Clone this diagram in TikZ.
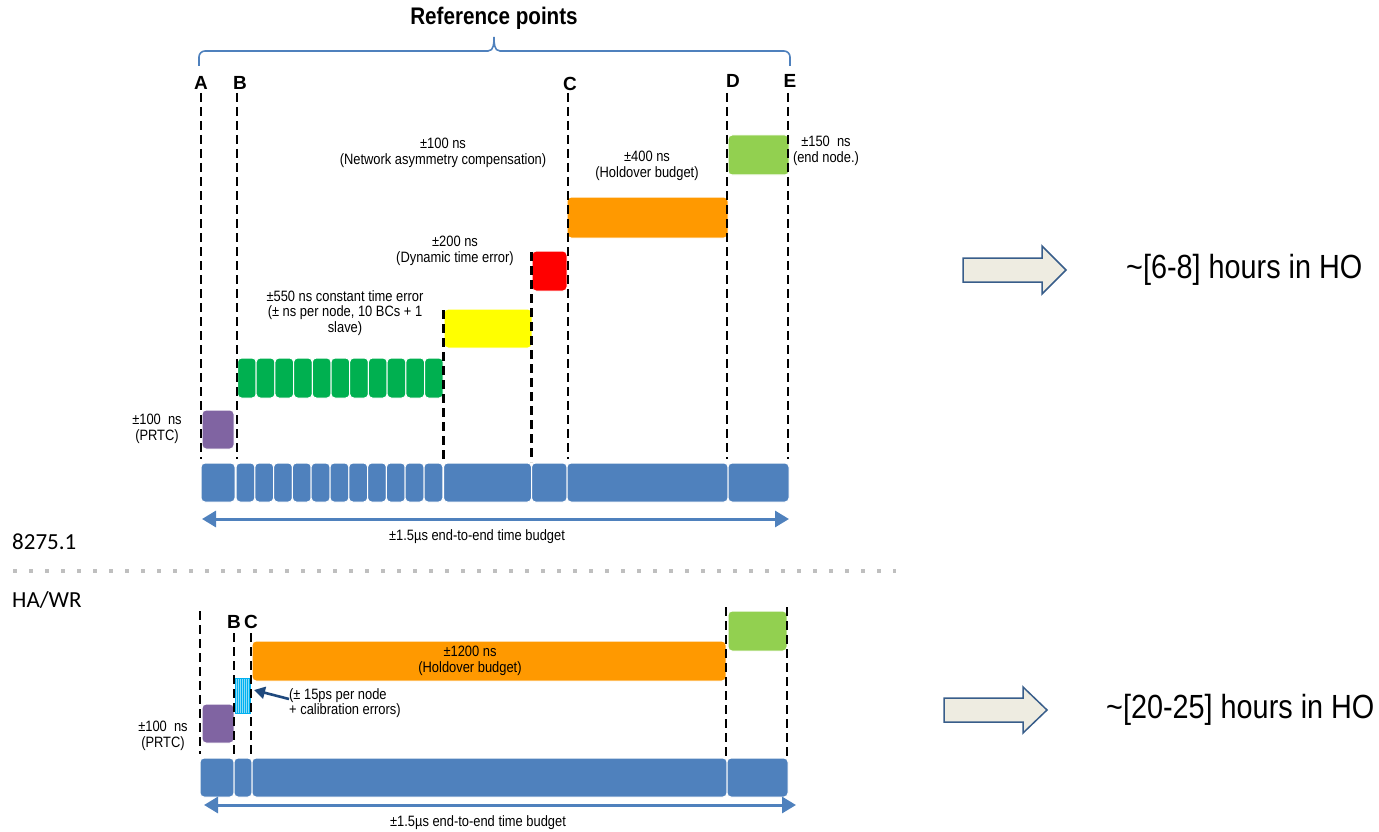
\documentclass[tikz,border=0pt]{standalone}
\usepackage{fontspec}
\setmainfont{Liberation Sans}
\newfontfamily\nar[FakeStretch=0.86]{Liberation Sans}
\newfontfamily\calfont{Carlito}
\usetikzlibrary{arrows.meta}
\definecolor{barblue}{HTML}{4F81BD}
\definecolor{prtc}{HTML}{8064A2}
\definecolor{bcgreen}{HTML}{00B050}
\definecolor{dyn}{HTML}{FF0000}
\definecolor{asym}{HTML}{FFFF00}
\definecolor{hold}{HTML}{FF9900}
\definecolor{endn}{HTML}{92D050}
\definecolor{cyanb}{HTML}{00B0F0}
\definecolor{arrowfill}{HTML}{EEECE1}
\definecolor{arrowline}{HTML}{385D8A}
\definecolor{annblue}{HTML}{1F497D}
\definecolor{sepgray}{HTML}{BFBFBF}
\newcommand\blk[6]{\node[blk,fill=#6,minimum width={(#4)-(#2)},minimum height={(#5)-(#3)}] (#1) at ({((#2)+(#4))/2},{((#3)+(#5))/2}) {};}
\tikzset{
  blk/.style={rectangle, rounded corners=4pt, inner sep=0pt, draw=white, line width=1pt},
  refline/.style={dash pattern=on 9pt off 5pt, line width=2.4pt, black},
  lbl/.style={font=\nar\fontsize{15}{15.5}\selectfont, align=center, inner sep=0pt},
  letter/.style={font=\bfseries\fontsize{19}{19}\selectfont, inner sep=0pt},
  budget/.style={barblue, line width=3pt, {Triangle[length=14pt,width=16pt]}-{Triangle[length=14pt,width=16pt]}},
  bigtxt/.style={font=\nar\fontsize{33.5}{33.5}\selectfont, anchor=west, inner sep=0pt},
  side/.style={font=\calfont\fontsize{23}{23}\selectfont, anchor=west, inner sep=0pt},
  blockarrow/.style={fill=arrowfill, draw=arrowline, line width=1.5pt},
  brace/.style={barblue, line width=1.6pt},
  sepline/.style={sepgray, line width=4pt, dash pattern=on 4pt off 12pt},
  annarrow/.style={annblue, line width=2.6pt, -{Triangle[length=11pt,width=12pt]}}
}
\begin{document}
\begin{tikzpicture}[x=1pt,y=-1pt]
\useasboundingbox (0,0) rectangle (1379,832);

% ---------- title and brace
\node[font=\nar\bfseries\fontsize{24}{24}\selectfont, inner sep=0pt] (title) at (494,18) {Reference points};
\draw[brace] (199,66) -- (199,57) to[out=90,in=180] (205,51) -- (488,51) to[out=0,in=-90] (494,37) to[out=-90,in=180] (500,51) -- (784,51) to[out=0,in=90] (790,57) -- (790,66);

% ---------- reference letters
\node[letter] (lA) at (201,83) {A};
\node[letter] (lB) at (240,83) {B};
\node[letter] (lC) at (570,84) {C};
\node[letter] (lD) at (733,81) {D};
\node[letter] (lE) at (790,81) {E};

% ---------- top blocks
\blk{prtcT}{202}{410}{234}{449}{prtc}
\foreach \i in {0,...,10} {
  \pgfmathsetmacro\xa{237.5+\i*18.7}
  \pgfmathsetmacro\xb{237.5+(\i+1)*18.7}
  \blk{g\i}{\xa}{358}{\xb}{398}{bcgreen}
}
\blk{asymT}{444}{309}{532}{348}{asym}
\blk{dynT}{532}{251}{567}{291}{dyn}
\blk{holdT}{567}{197}{728}{238}{hold}
\blk{endT}{728}{135}{789}{175}{endn}

% ---------- top bar
\blk{b0}{201}{463}{235}{502}{barblue}
\foreach \i in {0,...,10} {
  \pgfmathsetmacro\xa{236+\i*18.8}
  \pgfmathsetmacro\xb{236+(\i+1)*18.8}
  \blk{bs\i}{\xa}{463}{\xb}{502}{barblue}
}
\blk{b1}{443.5}{463}{531.5}{502}{barblue}
\blk{b2}{531.5}{463}{567}{502}{barblue}
\blk{b3}{567}{463}{728}{502}{barblue}
\blk{b4}{728}{463}{789}{502}{barblue}

% ---------- top reference lines
\coordinate (Aa) at (201,93);  \coordinate (Ab) at (201,459);
\coordinate (Ba) at (237,93);  \coordinate (Bb) at (237,459);
\coordinate (Ca) at (568,93);  \coordinate (Cb) at (568,459);
\coordinate (Da) at (727,93);  \coordinate (Db) at (727,459);
\coordinate (Ea) at (788,93);  \coordinate (Eb) at (788,459);
\coordinate (Fa) at (443.5,310); \coordinate (Fb) at (443.5,462);
\coordinate (Ga) at (531.5,252); \coordinate (Gb) at (531.5,462);
\foreach \p in {A,B,C,D,E,F,G} { \draw[refline] (\p a) -- (\p b); }

% ---------- top labels
\node[lbl] (tAsym) at (443,153) {±100 ns\\(Network asymmetry compensation)};
\node[lbl] (tHold) at (647,166) {±400 ns\\(Holdover budget)};
\node[lbl] (tDyn) at (455,251) {±200 ns\\(Dynamic time error)};
\node[lbl] (tBC) at (345,313) {±550 ns constant time error\\(± ns per node, 10 BCs + 1\\slave)};
\node[lbl] (tEnd) at (826,151) {±150~~ns\\(end node.)};
\node[lbl] (tPrtc) at (157,429) {±100~~ns\\(PRTC)};

% ---------- top budget arrow
\coordinate (bl1) at (202,519); \coordinate (br1) at (789,519);
\draw[budget] (bl1) -- (br1);
\node[lbl] (tBud1) at (477,537) {±1.5µs end-to-end time budget};

% ---------- separator and side labels
\node[side] (s1) at (12,542) {8275.1};
\draw[sepline] (13,571) -- (896,571);
\node[side] (s2) at (12,600) {HA/WR};

% ---------- right side arrows and texts
\draw[blockarrow] (963,258) -- (1042,258) -- (1042,246) -- (1066,270) -- (1042,294) -- (1042,282) -- (963,282) -- cycle;
\node[bigtxt] (h1) at (1126,270) {\textasciitilde[6-8] hours in HO};
\draw[blockarrow] (944,698) -- (1023,698) -- (1023,687) -- (1047,710) -- (1023,733) -- (1023,722) -- (944,722) -- cycle;
\node[bigtxt] (h2) at (1106,710) {\textasciitilde[20-25] hours in HO};

% ---------- bottom letters
\node[letter] (lB2) at (234,622) {B};
\node[letter] (lC2) at (251,622) {C};

% ---------- bottom blocks
\blk{prtcB}{202}{704}{234}{743}{prtc}
\node[rectangle, fill=cyanb, inner sep=0pt, minimum width=16pt, minimum height=36pt] (cy) at (243,696) {};
\foreach \x in {236.5,238.5,...,250} { \draw[white!55!cyanb, line width=0.5pt] (\x,679) -- (\x,713); }
\blk{holdB}{252}{641}{726}{681}{hold}
\blk{endB}{728}{611}{787}{651}{endn}

% ---------- bottom bar
\blk{c0}{200}{758}{234}{797}{barblue}
\blk{c1}{234}{758}{252}{797}{barblue}
\blk{c2}{252}{758}{727}{797}{barblue}
\blk{c3}{727}{758}{788}{797}{barblue}

% ---------- bottom reference lines
\coordinate (Ha) at (200,611);  \coordinate (Hb) at (200,754);
\coordinate (Ia) at (234,633);  \coordinate (Ib) at (234,754);
\coordinate (Ja) at (251,633);  \coordinate (Jb) at (251,754);
\coordinate (Ka) at (726,607);  \coordinate (Kb) at (726,756);
\coordinate (La) at (787,607);  \coordinate (Lb) at (787,756);
\foreach \p in {H,I,J,K,L} { \draw[refline] (\p a) -- (\p b); }

% ---------- bottom labels
\node[lbl] (tHold2) at (470,661) {±1200 ns\\(Holdover budget)};
\node[lbl, align=left, anchor=west] (tCal) at (289,703) {(± 15ps per node\\+ calibration errors)};
\coordinate (annT) at (289,699); \coordinate (annH) at (254,690);
\draw[annarrow] (annT) -- (annH);
\node[lbl] (tPrtc2) at (163,736) {±100~~ns\\(PRTC)};

% ---------- bottom budget arrow
\coordinate (bl2) at (204,805); \coordinate (br2) at (796,805);
\draw[budget] (bl2) -- (br2);
\node[lbl] (tBud2) at (478,823) {±1.5µs end-to-end time budget};
\end{tikzpicture}
\end{document}
